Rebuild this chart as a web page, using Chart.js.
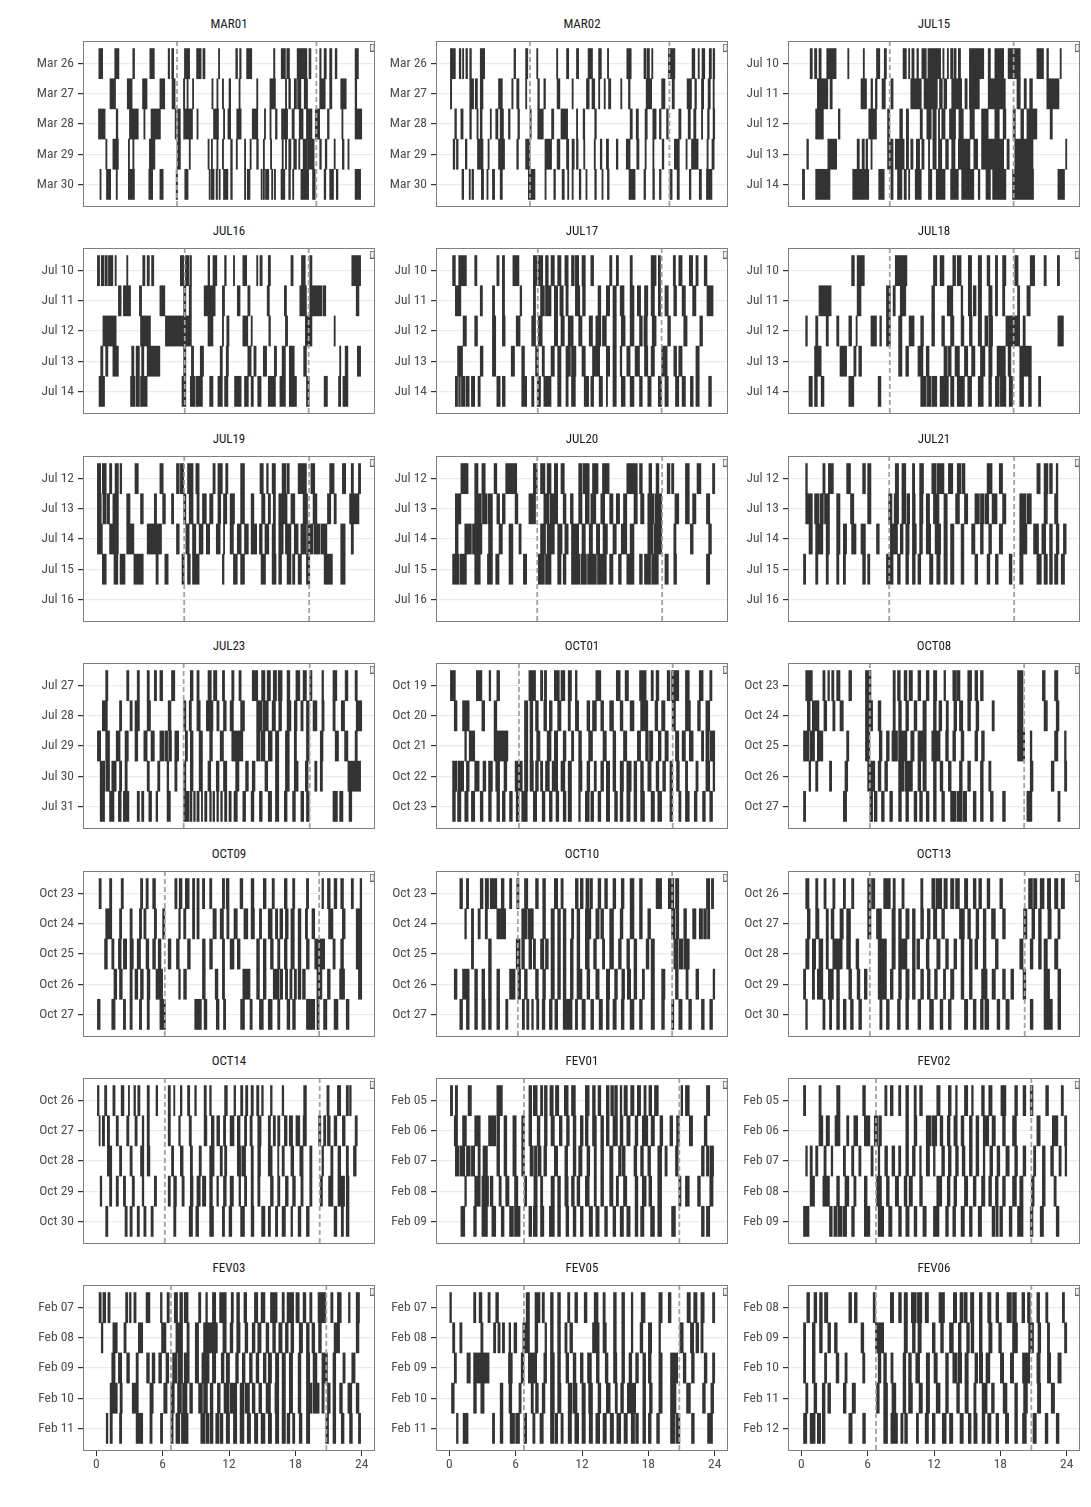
<!DOCTYPE html>
<html><head><meta charset="utf-8">
<script src="https://cdn.jsdelivr.net/npm/chart.js@4.4.1/dist/chart.umd.min.js"></script>
<style>
html,body{margin:0;padding:0;background:#fff;}
#wrap{position:relative;width:1091px;height:1507px;overflow:hidden;background:#fff;}
#wrap canvas{position:absolute;}
.ttl{position:absolute;text-align:center;font-family:'Roboto Condensed','Roboto',sans-serif;font-size:13px;line-height:14px;color:#1a1a1a;white-space:nowrap;}
</style></head>
<body><div id="wrap"></div>
<script>
// ---- row labels ----
const DAYS_MAR26 = ['Mar 26','Mar 27','Mar 28','Mar 29','Mar 30'];
const DAYS_JUL10 = ['Jul 10','Jul 11','Jul 12','Jul 13','Jul 14'];
const DAYS_JUL12 = ['Jul 12','Jul 13','Jul 14','Jul 15','Jul 16'];
const DAYS_JUL27 = ['Jul 27','Jul 28','Jul 29','Jul 30','Jul 31'];
const DAYS_OCT19 = ['Oct 19','Oct 20','Oct 21','Oct 22','Oct 23'];
const DAYS_OCT23 = ['Oct 23','Oct 24','Oct 25','Oct 26','Oct 27'];
const DAYS_OCT26 = ['Oct 26','Oct 27','Oct 28','Oct 29','Oct 30'];
const DAYS_FEB05 = ['Feb 05','Feb 06','Feb 07','Feb 08','Feb 09'];
const DAYS_FEB07 = ['Feb 07','Feb 08','Feb 09','Feb 10','Feb 11'];
const DAYS_FEB08 = ['Feb 08','Feb 09','Feb 10','Feb 11','Feb 12'];
const X_TICKS = [0, 6, 12, 18, 24];

// ---- sunrise / sunset (hours) ----
const SUN_MAR = [7.3, 19.9];
const SUN_JUL15 = [8.0, 19.2];
const SUN_JUL19 = [7.95, 19.25];
const SUN_JUL23 = [7.9, 19.3];
const SUN_OCT01 = [6.3, 20.2];
const SUN_OCT08 = [6.2, 20.15];
const SUN_OCT13 = [6.2, 20.2];
const SUN_FEV = [6.75, 20.8];

// ---- activity intervals per day row: [start,end, start,end, ...] (hours) ----
const MAR01 = [
 [0.23,0.58,1.67,2.05,3.3,3.46,4.84,5.25,6.5,6.63,6.82,7.0,7.97,8.44,9.07,9.48,9.64,9.83,11.05,11.14,12.61,12.77,12.96,13.1,13.59,14.06,16.03,16.15,16.72,17.1,17.22,17.47,18.16,19.04,19.23,19.41,20.2,20.33,20.6,20.8,21.1,21.3,21.6,21.76,23.4,23.7],
 [1.24,1.74,2.8,3.24,4.18,4.59,5.75,6.19,6.85,7.13,7.88,8.0,8.2,8.3,8.7,8.8,10.45,10.55,10.9,10.96,11.4,11.45,12.0,12.15,12.9,13.0,14.5,14.6,15.7,16.2,17.1,17.2,17.4,17.56,17.9,18.1,18.2,18.5,18.8,19.1,20.2,20.7,21.1,21.3,22.1,22.6,23.4,23.55],
 [0.2,0.8,1.8,1.95,3.0,3.1,3.15,3.8,4.3,4.4,4.95,5.8,7.13,7.2,7.35,7.6,7.9,8.7,9.1,9.2,10.6,11.05,11.5,11.55,11.9,12.15,12.7,13.1,14.1,14.6,15.2,15.3,15.7,15.75,16.2,16.35,16.75,17.3,17.7,17.9,18.35,18.7,19.0,19.5,19.8,20.2,20.9,21.05,22.2,22.3,23.4,24.0],
 [0.86,0.92,1.5,2.0,2.9,3.0,3.3,3.36,4.8,5.3,7.3,7.45,7.5,7.6,8.4,8.45,10.1,10.2,10.4,10.48,10.9,10.96,11.4,11.5,12.15,12.3,12.65,12.7,13.4,13.5,13.9,14.0,14.5,14.65,15.1,15.2,15.75,15.85,16.8,16.9,17.1,17.2,17.4,17.6,17.85,18.1,18.3,18.4,18.7,19.05,19.1,19.7,20.2,20.35,20.7,20.85,21.5,21.6,22.25,22.4,22.75,22.85],
 [0.33,0.42,0.92,1.3,1.8,1.9,2.9,3.45,4.75,5.1,5.75,6.05,7.22,7.35,8.0,8.3,10.2,10.27,10.4,10.65,10.83,10.96,11.1,11.2,11.5,11.9,12.15,12.3,13.4,13.46,13.65,13.9,14.9,15.0,15.1,15.2,15.3,15.6,15.85,15.9,16.1,16.2,16.7,17.05,17.4,17.55,17.75,17.85,18.5,19.2,19.55,19.8,20.6,20.75,21.1,21.45,21.7,21.85,23.4,23.9]
];
const MAR02 = [
 [0.1,0.55,0.9,1.05,1.2,1.3,1.5,1.65,1.85,2.0,2.8,3.2,5.85,6.0,6.9,7.1,7.9,8.0,9.7,9.8,10.6,10.8,11.5,11.7,12.55,12.95,13.5,13.75,14.3,14.4,16.05,16.45,17.6,17.8,17.9,18.1,18.3,18.4,19.8,20.4,21.95,22.2,22.5,22.6,22.85,23.1,23.5,23.7,23.85,24.0],
 [0.1,0.22,1.85,2.2,2.35,2.55,2.8,3.05,4.45,4.8,5.65,5.77,6.1,6.3,6.9,7.0,8.0,8.15,8.55,8.7,9.75,10.0,11.1,11.2,12.4,12.65,12.9,13.15,13.5,13.6,14.0,14.1,14.4,14.6,15.5,15.6,16.2,16.35,17.8,18.3,19.2,19.5,20.15,20.35,21.5,21.9,22.2,22.35,22.8,23.0,23.4,23.6,23.85,23.95],
 [0.5,0.65,1.05,1.25,1.85,2.0,2.5,2.6,2.8,2.97,3.7,3.8,4.2,4.4,4.6,4.9,5.35,5.5,6.2,6.35,7.3,7.4,8.0,8.5,9.25,9.45,10.1,10.7,11.5,11.6,12.1,12.25,13.15,13.3,16.35,16.55,16.9,17.1,17.7,17.9,18.4,18.7,19.0,19.15,19.65,19.8,20.75,20.95,21.6,21.8,22.1,22.3,22.8,22.9,23.35,23.5,23.85,24.0],
 [0.35,0.5,0.65,0.8,1.45,1.6,2.55,3.05,3.5,3.6,4.45,5.0,6.1,6.25,6.9,7.3,8.65,9.25,9.75,10.0,10.6,10.8,11.1,11.3,11.5,11.65,12.15,12.2,13.1,13.2,13.65,13.8,14.2,14.4,15.1,15.25,16.0,16.35,16.95,17.15,17.7,17.8,18.4,18.5,19.25,19.4,20.35,20.8,21.4,21.5,21.9,22.5,23.3,23.4,23.75,23.95],
 [1.15,1.3,1.8,1.9,2.05,2.2,2.9,3.1,3.4,3.5,3.9,4.1,4.6,4.8,7.15,7.75,8.65,8.75,9.45,9.6,10.2,10.4,10.7,10.8,11.1,11.2,11.75,11.9,12.35,12.45,13.15,13.3,13.8,13.9,14.3,14.45,16.25,16.8,17.6,17.75,18.4,18.55,19.0,19.15,19.95,20.15,20.6,20.8,21.7,21.85,22.6,22.8,23.25,23.75]
];
const JUL15 = [
 [0.8,1.0,1.2,1.4,1.6,1.8,2.3,3.15,4.2,4.3,5.6,5.7,6.8,7.1,7.5,7.7,9.2,9.5,9.7,9.8,10.0,10.2,10.45,10.6,10.9,11.3,11.45,12.6,12.8,12.9,13.2,13.3,13.5,13.7,13.8,14.0,14.2,14.4,15.2,16.5,16.9,17.1,17.5,18.3,18.7,19.8,21.3,21.9,22.2,22.35,23.4,23.5],
 [1.45,2.4,2.6,2.8,5.4,5.9,6.3,6.45,6.7,6.85,7.3,7.6,8.1,8.3,9.9,10.85,11.1,12.3,12.5,12.75,12.9,13.15,13.6,14.5,14.8,15.0,15.2,16.1,16.9,18.45,19.5,19.8,20.15,20.35,20.65,20.9,22.2,23.3],
 [1.3,2.0,3.35,3.5,6.1,6.8,7.8,8.0,8.9,9.15,9.5,9.7,10.75,10.95,11.35,11.75,11.9,12.2,12.4,12.5,12.7,13.0,13.4,13.95,14.25,14.65,15.25,15.65,16.3,16.9,17.5,17.9,18.25,18.5,19.15,19.35,19.85,20.1,20.4,21.3,22.5,22.7],
 [0.5,0.65,2.4,3.2,5.05,5.25,5.5,5.7,5.85,6.0,6.3,6.4,7.8,8.3,8.5,9.3,9.5,9.7,9.9,10.1,10.4,10.7,10.9,11.1,11.5,11.6,11.9,12.2,12.4,12.7,13.05,13.3,13.6,13.9,14.2,15.25,15.6,15.95,16.3,18.3,18.6,18.8,19.3,20.95,23.9,24.0],
 [0.1,0.3,1.3,2.6,4.65,6.1,7.0,7.5,8.1,8.3,8.7,9.1,9.3,9.5,9.7,9.8,10.3,10.85,11.5,11.8,12.2,13.0,13.5,14.2,14.5,15.6,16.0,16.15,16.7,17.1,17.3,18.5,19.1,21.0,23.2,23.8]
];
const JUL16 = [
 [0.1,0.3,0.45,0.7,0.8,1.0,1.1,1.5,1.7,1.8,2.75,2.85,4.2,4.4,4.6,4.8,5.0,5.2,7.6,7.9,8.05,8.4,8.5,8.6,10.1,10.25,10.55,10.9,11.6,11.75,12.4,12.5,13.25,13.6,14.5,14.6,14.8,15.0,15.55,15.75,17.6,17.8,18.55,18.9,19.3,19.5,23.1,23.9],
 [2.0,2.25,2.45,3.1,3.9,4.1,5.75,6.2,7.9,8.1,8.4,8.6,9.75,10.75,11.4,11.6,12.75,13.0,13.7,13.9,15.45,15.65,17.0,17.2,18.4,19.0,19.3,20.4,20.5,20.75,23.5,23.75],
 [0.6,1.8,4.0,4.9,6.25,7.9,7.95,8.6,10.1,10.55,11.4,11.5,11.8,12.0,13.25,13.7,14.0,14.1,15.6,15.75,17.1,17.3,18.9,19.5,21.5,21.6],
 [0.4,0.6,0.85,1.05,1.5,2.0,3.2,3.4,3.6,3.9,4.1,4.3,4.6,5.75,7.9,8.1,8.6,8.8,9.4,9.7,11.2,11.4,11.75,11.95,13.7,14.0,14.25,14.45,15.1,15.4,16.1,16.3,16.8,17.1,17.45,17.9,18.75,19.0,22.0,22.1,22.5,22.75,23.6,23.9],
 [0.25,0.75,3.1,3.5,3.6,3.9,4.0,4.6,7.75,8.1,8.5,8.9,9.0,9.6,10.25,10.55,11.0,11.4,11.6,11.9,12.5,13.1,13.4,13.75,14.0,14.2,14.6,14.9,15.55,16.2,16.6,17.1,17.45,18.1,19.0,19.25,20.6,20.9,21.9,22.1,22.3,22.75]
];
const JUL17 = [
 [0.3,0.55,0.85,1.55,2.3,2.5,4.3,4.5,4.8,5.0,5.75,6.3,7.6,7.95,8.05,8.45,8.7,8.95,9.2,9.5,9.8,10.1,10.45,10.75,11.05,11.3,11.4,11.7,12.0,12.3,12.8,13.05,14.5,14.7,15.1,15.3,16.35,16.55,18.25,18.7,18.9,19.1,20.25,20.45,20.75,21.05,21.7,22.0,22.3,22.5,23.05,23.3],
 [0.55,1.05,2.8,3.0,3.9,4.1,4.8,5.0,6.4,6.55,7.6,7.8,8.25,8.6,8.7,9.2,9.5,9.8,10.0,10.3,10.55,10.75,11.4,11.8,12.05,12.3,13.45,13.7,14.2,14.5,14.8,15.1,15.45,15.8,16.35,16.7,17.0,17.3,17.65,17.95,18.25,18.55,18.9,19.1,19.5,19.8,20.3,20.55,21.05,21.35,22.0,22.3,23.3,23.85],
 [1.25,1.55,2.3,2.55,3.9,4.2,4.8,5.05,6.05,6.4,7.45,7.8,8.05,8.4,9.5,9.8,10.1,10.4,10.75,11.2,11.7,12.0,12.65,12.95,13.25,13.7,13.85,14.2,14.8,15.1,15.55,15.9,16.35,16.7,17.2,17.45,17.6,17.9,18.35,18.7,19.75,20.0,21.2,21.5,22.65,22.9],
 [0.75,1.2,2.8,3.05,3.9,4.2,5.6,5.9,6.55,6.8,7.8,8.05,8.4,8.6,9.2,9.5,9.8,10.1,10.55,10.95,11.05,11.45,12.0,12.3,12.95,13.6,14.2,14.5,14.8,15.1,15.45,15.6,16.05,16.35,16.8,17.2,17.65,17.95,18.25,18.55,19.2,19.7,20.3,20.55,20.75,21.05,22.3,22.6],
 [0.55,0.75,0.85,1.0,1.1,1.4,1.5,1.8,2.0,2.3,2.6,2.8,4.3,4.6,4.8,5.05,6.55,7.0,7.45,7.65,7.95,8.25,8.55,9.2,9.8,10.1,10.55,10.75,11.05,11.4,12.2,12.6,12.8,13.05,13.55,13.85,14.2,14.3,14.8,15.1,15.55,15.9,16.35,16.7,17.2,17.45,17.95,18.25,18.9,19.2,19.5,19.8,20.45,20.75,21.05,21.35,21.8,22.05,22.3,22.6,23.45,23.7]
];
const JUL18 = [
 [4.55,4.8,5.05,5.7,8.5,9.55,11.95,12.25,12.55,12.9,13.7,13.95,14.1,14.45,15.1,15.4,16.0,16.3,16.8,17.05,17.55,17.75,18.2,18.5,19.3,19.6,20.7,21.1,21.95,22.15,23.15,23.35],
 [1.6,2.7,5.05,5.4,7.7,8.05,8.3,8.5,8.95,9.45,11.8,12.05,13.2,13.7,14.45,14.6,15.1,15.4,15.55,15.8,16.0,16.3,16.95,17.25,17.55,17.75,18.2,18.4,19.55,19.75,20.4,20.7],
 [0.4,0.55,1.3,1.5,2.25,2.45,3.2,3.4,4.3,4.55,4.95,5.05,6.3,6.8,7.1,7.25,7.7,8.05,8.8,9.1,9.75,10.2,10.8,11.05,11.8,12.05,12.7,12.95,13.5,13.8,14.45,14.7,15.2,15.45,16.0,16.3,16.6,16.9,17.0,17.3,18.5,19.75,20.05,20.25,23.2,23.7],
 [1.2,1.8,3.5,4.1,4.75,4.95,5.2,5.45,8.8,9.1,9.45,9.7,10.55,11.0,11.3,11.55,12.9,13.2,13.3,13.55,13.9,14.3,14.75,15.05,15.4,15.7,16.2,16.6,16.95,17.25,17.7,18.45,18.7,18.95,19.75,20.8],
 [0.7,1.0,1.2,1.45,1.8,2.05,4.3,4.75,6.95,7.2,10.8,11.3,11.4,11.7,11.8,12.25,12.55,13.3,13.5,13.8,14.1,14.75,15.05,15.4,16.0,16.45,16.95,17.2,17.55,17.9,18.0,18.5,18.8,19.1,19.75,20.1,20.55,20.8,21.45,21.65]
];
const JUL19 = [
 [0.1,0.4,0.55,0.9,1.2,1.4,1.7,2.0,2.15,2.3,3.5,3.8,5.75,6.05,7.25,7.5,7.6,7.9,8.25,8.75,9.0,9.3,10.55,10.75,11.0,11.4,11.7,11.9,13.05,13.4,14.8,15.1,15.4,15.55,15.9,16.2,16.8,17.15,17.25,17.45,18.25,19.0,19.4,19.75,21.1,21.5,22.25,22.55,23.05,23.25,23.7,23.9],
 [0.1,0.45,0.6,0.9,1.0,1.2,1.5,2.0,2.75,3.05,4.0,4.25,5.25,5.45,6.0,6.25,6.8,7.0,7.9,8.1,8.4,8.75,9.1,9.3,9.6,9.95,10.25,10.55,11.0,11.25,11.5,11.8,12.1,12.5,13.05,13.4,14.0,14.25,14.95,15.25,15.55,15.75,16.0,16.2,16.5,17.25,17.6,17.95,18.7,19.1,19.6,19.95,20.9,21.2,21.5,21.7,22.9,23.75],
 [0.1,0.55,1.2,2.0,2.75,3.4,4.6,5.9,7.25,7.5,8.1,8.4,8.7,9.0,9.3,9.65,9.95,10.25,10.85,11.2,11.5,11.6,12.1,12.4,12.75,13.1,13.4,13.75,14.0,14.5,14.75,15.0,15.25,15.6,15.9,16.2,16.5,16.9,17.1,17.6,17.9,18.25,18.5,19.0,19.1,19.6,19.7,20.2,20.3,20.85,22.1,22.5,23.05,23.25],
 [0.55,0.9,1.6,1.95,2.15,2.6,3.4,4.25,5.4,5.6,6.2,6.5,7.75,7.95,8.25,8.5,8.7,9.3,11.4,11.55,12.4,12.75,13.05,13.4,14.9,15.3,15.9,16.25,16.5,16.75,17.25,17.6,17.75,17.95,18.25,18.55,19.0,19.3,20.6,21.35,22.1,22.5],
 []
];
const JUL20 = [
 [1.05,1.7,2.3,2.6,2.95,3.25,4.05,4.3,5.1,6.1,7.6,7.95,8.25,8.65,8.85,9.2,9.5,9.8,10.1,10.4,11.7,12.0,12.1,12.65,12.95,13.45,13.85,14.45,16.05,17.0,17.2,17.45,18.05,18.3,18.7,18.95,19.7,19.95,20.1,20.3,21.35,21.7,22.4,22.75,23.8,24.0],
 [0.55,1.05,2.3,2.9,3.0,3.4,3.5,3.9,4.3,4.55,4.8,5.05,5.95,6.2,7.2,7.8,8.55,9.0,9.1,9.8,10.3,10.55,10.95,11.2,11.7,12.0,12.3,12.65,12.8,13.25,13.7,14.05,14.5,14.8,15.1,15.4,15.75,16.05,16.7,17.0,17.3,17.6,17.95,18.5,18.6,19.2,20.4,20.75,21.35,21.7,22.0,22.3,23.25,23.55],
 [0.55,0.8,1.4,2.0,2.1,2.95,3.55,3.9,4.5,4.8,5.4,5.75,6.3,6.5,8.25,8.7,8.85,9.5,9.8,10.2,10.45,10.75,11.05,11.7,12.0,12.3,12.65,12.95,13.3,13.6,13.9,14.3,14.8,15.1,15.55,16.05,16.35,16.7,17.95,18.4,18.5,19.2,20.3,20.5,21.8,22.05,23.45,23.7],
 [0.3,0.9,1.0,1.55,2.3,2.8,3.45,3.9,4.2,4.5,5.4,5.75,6.7,7.0,8.05,8.6,8.7,9.2,9.8,10.1,10.3,10.55,11.05,11.8,11.9,12.4,12.5,13.3,13.4,14.2,14.5,14.8,15.3,15.55,16.05,16.7,17.2,17.45,17.65,18.2,18.3,18.9,19.5,19.8,20.3,20.55,23.25,23.55],
 []
];
const JUL21 = [
 [0.4,0.55,1.95,2.15,2.45,2.9,4.1,4.45,5.55,5.8,6.0,6.3,8.5,8.8,9.1,9.45,10.05,10.25,10.7,11.05,11.8,12.2,12.3,12.9,13.3,13.7,14.1,14.45,14.55,14.8,16.8,17.25,17.9,18.2,21.3,21.6,21.95,22.3,22.45,22.7,23.05,23.2],
 [0.4,1.0,1.2,1.6,1.7,2.0,2.1,2.55,3.2,3.5,4.45,4.75,6.0,6.3,7.9,8.2,8.4,8.8,9.1,9.45,9.55,9.8,10.05,10.3,10.7,11.0,11.3,11.6,11.95,12.45,12.9,13.2,13.95,14.3,14.75,15.05,15.7,16.1,16.2,16.5,16.6,16.95,17.25,17.7,18.2,18.5,19.75,20.3,20.4,20.8,21.95,22.25,22.9,23.2],
 [0.7,1.0,1.3,1.95,2.25,2.55,3.2,3.5,3.8,4.1,4.55,4.95,5.4,5.8,6.8,7.05,8.05,8.7,8.95,9.2,9.45,9.75,10.05,10.4,10.7,10.95,11.3,11.7,12.1,12.6,12.9,13.2,13.5,13.8,14.45,14.7,15.4,15.7,16.2,16.45,16.95,17.2,17.9,18.2,19.75,20.4,21.0,21.45,21.75,22.1,22.45,22.7,23.05,23.3,23.7,23.95],
 [0.2,0.4,1.3,1.5,2.25,2.45,3.2,3.4,3.8,4.0,5.55,5.8,6.0,6.2,7.7,8.3,8.7,8.95,9.45,9.7,10.05,10.3,10.55,10.8,11.6,11.9,12.25,12.55,12.9,13.2,13.5,13.8,14.45,14.7,15.7,15.95,16.8,17.05,17.55,17.8,18.8,19.05,19.75,20.05,21.3,21.7,21.95,22.25,22.45,22.7,22.9,23.2,23.5,23.8],
 []
];
const JUL23 = [
 [0.85,1.05,2.75,2.95,3.7,3.9,4.6,4.8,5.25,5.45,5.75,6.0,6.8,7.1,8.5,8.75,9.1,9.3,10.1,10.4,10.6,10.9,11.4,11.6,12.25,12.45,12.9,13.1,14.1,14.6,14.95,15.25,15.45,15.75,16.0,16.3,16.45,16.8,17.25,17.5,18.05,18.4,18.7,19.0,19.3,19.5,20.4,20.55,21.4,21.75,22.5,22.75,23.4,23.6],
 [0.55,1.0,2.1,2.3,3.05,3.25,3.5,3.9,4.6,4.9,6.5,6.75,7.9,8.1,8.4,8.6,9.1,9.4,9.95,10.55,10.9,11.1,11.5,11.75,12.1,12.4,13.05,13.4,14.5,15.0,15.1,15.55,15.9,16.2,16.5,16.75,17.25,17.6,17.9,18.15,18.5,18.7,19.0,19.25,19.6,19.95,20.4,20.6,21.4,21.6,22.15,22.45,23.5,24.0],
 [0.1,0.4,0.85,1.2,1.8,2.15,2.6,2.9,3.5,3.75,4.3,4.6,4.95,5.25,5.75,6.1,6.2,6.45,6.55,6.8,7.1,7.45,8.05,8.25,8.5,8.75,9.3,9.6,10.25,10.5,11.2,11.5,12.25,13.25,14.5,14.8,14.9,15.25,15.55,15.9,16.2,16.5,17.1,17.45,17.9,18.1,19.0,19.25,20.25,20.5,21.6,21.9,22.45,22.75,23.4,23.6],
 [0.35,0.8,0.9,1.2,1.4,1.8,2.1,2.3,2.6,2.8,4.6,4.8,5.55,5.75,6.4,6.55,7.1,7.3,7.9,8.1,8.5,8.75,9.3,9.6,10.1,10.35,10.85,11.1,11.5,11.8,12.6,12.9,13.5,13.75,14.1,14.35,15.25,15.5,16.2,16.5,17.1,17.45,17.9,18.25,18.9,19.15,19.75,19.95,20.25,20.45,22.75,23.9],
 [0.35,0.75,1.2,1.6,2.0,2.25,2.45,2.95,3.7,3.9,4.1,4.3,4.75,5.0,5.4,5.55,6.4,6.7,7.9,8.4,8.5,8.65,8.8,8.95,9.1,9.3,9.5,9.6,9.8,10.0,10.25,10.4,10.55,10.7,10.9,11.05,11.25,11.4,11.6,11.8,12.0,12.2,12.45,12.75,13.25,13.5,14.0,14.25,14.75,15.0,15.55,15.85,16.2,16.5,17.0,17.25,17.75,18.0,18.5,18.75,19.0,19.25,21.4,21.8,22.0,22.3,22.85,23.1]
];
const OCT01 = [
 [0.1,0.55,2.45,2.95,3.6,3.75,4.3,4.55,7.2,7.8,8.25,8.45,8.6,8.8,9.5,9.95,10.1,10.45,10.75,11.05,11.4,11.55,13.25,13.7,15.1,15.45,15.9,16.2,17.2,17.8,18.25,18.45,18.7,18.95,19.7,19.95,20.1,20.75,21.35,21.7,22.6,22.95,23.55,23.75],
 [0.45,0.7,1.2,1.8,2.95,3.2,4.05,4.3,6.8,7.1,7.3,7.55,7.8,8.05,8.55,8.8,9.05,9.3,9.8,10.1,10.75,10.95,11.4,11.7,12.45,12.7,12.95,13.3,13.7,13.95,14.5,14.85,15.45,15.7,16.35,16.7,17.3,17.95,18.6,18.85,19.2,19.5,20.15,20.45,21.35,21.8,22.45,22.7,23.2,23.55],
 [1.4,1.55,1.8,2.3,4.05,5.3,6.8,7.1,7.3,7.55,7.9,8.2,8.85,9.2,9.5,9.8,10.3,10.55,11.05,11.25,11.7,11.95,12.6,12.95,13.9,14.2,14.8,15.05,15.75,16.05,17.0,17.3,17.75,18.0,18.1,18.4,18.9,19.15,19.5,19.8,20.45,20.75,21.05,21.35,21.7,22.05,22.8,23.0,23.2,23.5,23.6,24.0],
 [0.3,0.7,0.8,1.3,1.55,1.8,2.3,2.7,3.05,3.3,3.55,3.9,4.2,4.55,4.95,5.2,5.95,6.6,6.8,7.1,7.3,7.6,7.8,8.05,8.25,8.45,8.7,9.05,9.3,9.8,10.1,10.45,10.75,11.05,11.7,12.0,12.45,12.7,13.1,13.3,13.7,13.95,14.2,14.5,14.8,15.05,15.45,15.75,16.05,16.45,16.7,16.95,17.3,17.55,17.95,18.25,18.7,18.95,19.3,19.55,19.95,20.2,20.55,20.8,21.35,21.55,22.3,22.5,23.2,23.55,23.85,24.0],
 [0.3,0.55,0.75,1.05,1.4,1.7,2.0,2.3,2.8,3.05,3.55,3.8,4.3,4.55,4.8,5.05,5.45,5.7,6.05,6.3,6.55,7.05,7.6,7.9,8.4,8.65,9.05,9.3,9.65,9.9,10.3,10.55,10.75,11.05,11.7,11.85,12.3,12.65,12.8,13.05,13.45,13.7,14.2,14.5,14.95,15.2,15.45,15.7,16.05,16.35,16.7,16.95,17.3,17.65,18.25,18.55,18.85,19.2,19.95,20.2,20.75,20.95,21.35,21.7,22.15,22.4,22.9,23.15,23.55,23.8]
];
const OCT08 = [
 [0.4,1.0,1.95,2.15,2.4,2.55,2.75,2.95,3.2,3.5,4.3,4.55,5.8,6.3,8.3,8.5,8.7,8.95,9.3,9.55,9.75,10.05,10.55,10.8,11.3,11.55,11.95,12.25,12.9,13.05,13.7,14.0,14.05,14.35,15.05,15.4,15.7,15.95,16.2,16.45,19.55,20.05,21.8,22.05,22.9,23.2],
 [0.55,0.8,1.0,1.6,2.05,2.3,2.85,3.05,3.5,3.8,5.8,6.45,6.95,7.2,8.3,8.5,8.8,9.05,9.45,9.7,10.2,10.45,11.0,11.3,11.95,12.2,12.45,12.7,13.1,13.3,13.8,14.05,14.3,14.6,15.05,15.3,15.8,16.05,17.25,17.45,19.55,20.05,21.95,22.25,23.05,23.3],
 [0.2,0.7,0.8,1.2,1.45,1.95,4.1,4.3,5.8,6.2,7.05,7.3,7.7,7.95,8.2,8.7,8.8,9.55,9.9,10.2,10.55,11.3,11.8,12.55,13.05,13.3,13.7,13.95,14.45,14.7,15.7,15.95,16.3,16.55,19.55,20.2,20.7,20.85,22.9,23.2,23.8,23.95],
 [0.7,0.85,1.3,1.5,2.55,2.75,3.95,4.2,6.0,6.65,6.95,7.2,7.55,7.8,8.8,9.3,9.4,10.05,10.55,10.8,11.0,11.3,11.95,12.2,12.55,12.8,13.3,13.55,14.3,14.55,15.05,15.3,16.2,16.45,16.95,17.15,20.7,20.95,22.6,22.85,23.8,24.0],
 [0.2,0.4,3.8,4.1,6.2,6.45,6.6,6.85,7.25,7.5,8.0,8.25,8.8,9.05,9.45,9.7,10.2,10.45,10.7,10.95,11.3,11.55,11.95,12.2,12.7,12.95,13.5,14.0,14.1,14.5,14.6,14.95,15.55,15.8,16.2,16.45,17.1,17.35,18.2,18.45,20.4,20.85,23.2,23.4]
];
const OCT09 = [
 [0.25,0.45,1.2,1.4,2.25,2.45,4.0,4.2,4.5,4.7,5.1,5.35,7.1,7.3,7.5,7.75,8.05,8.4,8.7,8.9,9.1,9.3,9.6,9.8,10.25,10.45,11.4,11.6,11.75,12.0,13.0,13.25,14.0,14.25,15.1,15.35,15.9,16.1,17.0,17.25,17.75,17.95,19.0,19.2,20.4,20.55,20.9,21.15,21.5,21.75,22.1,22.35,23.05,23.25,23.85,24.0],
 [0.85,1.4,2.1,2.3,3.05,3.25,3.9,4.1,4.3,4.5,5.25,5.45,6.0,6.2,7.45,7.6,7.9,8.1,8.7,8.9,9.1,9.3,10.55,10.85,11.2,11.5,11.8,12.0,12.45,12.75,13.35,13.7,14.0,14.3,14.75,14.95,15.55,15.9,16.2,16.4,16.6,16.85,17.1,17.35,17.6,17.9,18.25,18.5,18.9,19.1,19.5,19.75,21.0,21.4,22.25,22.5,23.5,24.0],
 [0.75,1.0,1.4,1.6,2.0,2.25,2.45,2.75,3.05,3.35,3.7,4.0,4.5,4.75,5.1,5.35,5.6,5.85,6.5,6.75,7.25,7.5,8.25,8.5,9.6,9.85,10.25,10.5,11.4,11.6,12.1,12.45,12.75,13.0,14.5,14.75,15.1,15.35,15.75,16.0,16.4,16.6,17.0,17.25,17.6,17.9,18.25,18.5,19.0,19.25,19.75,20.65,21.4,21.6,22.1,22.35,23.5,24.0],
 [1.6,1.85,2.1,2.35,3.05,3.25,3.5,3.75,4.0,4.25,4.6,4.85,5.4,6.0,7.45,7.6,7.9,8.15,9.6,9.85,10.75,11.0,11.4,11.6,13.25,13.9,14.5,14.75,15.1,15.35,16.0,16.5,16.6,16.85,17.1,17.3,17.5,17.7,17.9,18.1,18.25,18.5,18.65,18.9,19.95,20.4,20.9,21.15,22.0,22.45,23.7,24.0],
 [0.1,0.35,1.4,1.7,2.45,2.65,3.05,3.25,3.9,4.1,4.6,4.8,5.75,6.25,8.9,9.5,9.75,10.0,10.85,11.1,11.5,11.7,13.05,13.4,13.9,14.1,14.75,15.1,15.55,15.9,16.4,16.6,17.25,17.5,17.75,18.0,19.0,19.75,19.95,20.15,20.55,20.85,21.5,21.85,22.6,22.85]
];
const OCT10 = [
 [0.95,1.2,1.55,1.75,2.8,3.05,3.25,3.55,3.7,4.3,4.7,4.95,5.45,5.65,6.1,6.3,6.8,7.1,7.8,8.05,8.45,8.7,9.5,9.8,10.1,10.3,11.4,11.65,11.85,12.1,12.35,12.65,12.75,12.95,13.45,13.7,14.05,14.3,14.8,15.05,15.55,15.8,16.35,16.7,17.2,17.45,18.7,19.2,19.8,20.3,20.45,20.75,23.25,23.55,23.7,23.9],
 [1.4,1.55,2.0,2.2,2.6,2.8,3.25,3.45,4.3,5.1,6.55,7.0,7.1,7.6,8.45,8.7,9.2,9.5,9.8,10.05,10.3,10.55,11.05,11.25,11.55,11.8,12.3,12.8,13.25,13.55,13.7,13.95,14.5,14.85,15.45,15.7,16.35,16.7,17.2,17.45,17.95,18.2,20.1,20.4,20.5,20.75,21.2,21.45,22.0,22.3,22.6,22.9,23.0,23.25,23.35,23.55],
 [2.0,2.2,3.55,3.8,6.05,6.4,6.55,6.8,7.2,7.45,7.6,7.8,8.25,8.55,8.7,8.95,9.2,9.5,9.8,10.05,10.3,10.55,10.95,11.2,11.55,11.8,12.3,12.65,13.05,13.3,13.85,14.05,14.5,14.85,15.3,15.55,16.05,16.3,16.7,16.95,17.8,18.05,18.25,18.55,20.3,20.7,20.8,21.1,21.2,21.7],
 [0.45,0.7,1.2,1.8,2.3,2.55,2.95,3.2,3.55,3.8,4.3,4.55,5.45,5.95,6.2,6.45,6.8,7.05,7.8,8.05,8.45,8.7,9.2,9.5,9.8,10.05,10.3,10.55,10.95,11.2,11.55,12.0,12.45,12.7,13.25,13.55,14.2,14.5,14.95,15.2,15.6,15.85,16.1,16.4,16.7,16.95,17.45,17.65,18.25,18.55,19.2,19.5,20.45,20.7,21.4,21.6,22.3,22.55,23.85,24.0],
 [0.95,1.2,1.55,1.8,2.3,2.55,2.95,3.25,3.55,3.8,4.3,4.55,5.1,5.3,6.6,6.8,7.0,7.2,7.45,7.6,7.9,8.1,8.4,8.65,9.05,9.3,9.55,9.8,10.3,11.1,11.4,11.6,12.0,12.3,12.8,13.05,13.55,13.85,14.2,14.45,14.8,15.1,15.55,15.8,16.35,16.7,17.2,17.45,18.25,18.55,19.2,19.45,20.1,20.3,20.75,21.05,21.65,21.9,22.8,23.05,23.55,23.8]
];
const OCT13 = [
 [0.4,0.7,1.3,1.5,2.05,2.25,2.85,3.05,3.8,4.0,4.55,4.75,6.0,6.25,6.35,6.65,7.45,8.05,8.3,8.5,9.1,9.3,10.8,11.0,11.8,12.1,12.2,12.7,12.9,13.2,13.5,13.8,13.95,14.3,14.75,15.05,15.55,15.8,16.05,16.3,16.8,17.05,17.95,18.2,20.55,20.9,21.0,21.3,21.6,21.95,22.25,22.55,22.9,23.2,23.5,23.8],
 [0.55,0.8,1.3,1.6,2.25,2.45,2.7,2.95,3.5,3.8,4.1,4.45,6.0,6.3,6.8,7.25,8.2,8.5,8.8,9.05,9.45,9.75,10.05,10.3,10.8,11.05,11.4,11.65,11.95,12.25,12.7,12.95,14.3,14.75,15.05,15.3,15.8,16.05,16.45,16.7,17.2,17.55,18.2,18.45,20.1,20.4,20.85,21.1,21.45,21.7,22.3,22.6,23.2,23.4],
 [0.4,0.7,1.0,1.3,1.6,1.95,2.25,2.45,2.85,3.7,4.1,4.45,4.95,5.2,6.95,7.7,8.2,8.5,8.8,9.55,10.05,10.3,10.45,10.7,11.3,11.55,12.25,12.55,13.05,13.3,13.8,14.05,14.45,14.7,15.2,15.45,15.7,15.95,16.45,16.7,17.55,17.8,19.75,20.05,20.7,20.95,21.45,21.7,21.95,22.25,22.9,23.2],
 [0.2,0.4,1.0,1.2,1.45,1.95,2.45,2.9,3.2,3.45,4.3,4.55,5.05,5.3,5.7,5.95,6.95,7.7,8.05,8.3,8.8,9.05,9.45,9.75,10.05,10.3,10.8,11.05,11.4,11.65,12.05,12.3,12.85,13.05,13.5,13.8,14.45,14.7,15.2,15.45,16.3,16.8,17.25,17.55,18.2,18.45,18.95,19.2,20.05,20.3,21.95,22.45,23.2,23.45],
 [0.4,0.55,1.95,2.15,2.55,2.75,3.2,3.45,3.8,4.05,4.45,4.7,5.2,5.45,7.1,7.3,7.7,7.95,8.7,8.95,9.45,9.7,10.55,10.8,11.6,11.95,12.55,12.8,13.3,13.55,14.75,15.05,15.55,15.8,16.2,16.45,16.6,16.95,17.7,17.95,18.5,18.8,20.7,20.95,21.95,22.7,23.2,23.45]
];
const OCT14 = [
 [0.1,0.25,0.75,0.95,1.5,1.7,2.25,2.5,2.9,3.0,3.4,3.55,3.75,3.95,4.6,4.8,5.4,5.55,6.5,6.7,7.0,7.1,7.6,7.75,8.25,8.45,8.9,9.05,9.75,9.95,10.25,10.4,11.6,11.85,12.45,12.6,13.05,13.25,13.5,13.7,14.0,14.2,14.5,14.7,14.95,15.1,15.75,15.9,16.8,16.95,18.75,19.0,20.85,21.05,21.8,22.1,22.6,22.8,22.9,23.05],
 [0.25,0.35,0.55,0.75,1.0,1.2,1.8,2.0,2.75,2.95,3.5,3.7,4.15,4.3,4.6,4.8,6.5,6.7,7.45,7.6,8.4,8.6,9.75,10.0,10.4,10.65,10.9,11.15,11.5,11.7,12.1,12.45,12.75,13.0,13.4,13.6,13.9,14.1,14.6,14.9,15.55,15.75,16.0,16.2,16.4,16.6,17.0,17.25,17.45,17.75,18.05,18.4,18.7,19.0,20.1,20.3,20.55,20.75,20.9,21.15,21.5,21.75,22.25,22.5,23.4,23.6],
 [1.0,1.4,2.1,2.3,3.05,3.25,4.0,4.3,4.6,4.85,6.8,7.0,7.6,7.85,8.5,8.7,9.3,9.5,10.25,10.65,11.2,11.4,11.6,11.8,12.75,13.05,13.15,13.5,14.0,14.2,14.6,14.85,15.55,15.9,16.4,16.5,16.8,17.0,17.6,17.85,18.4,18.7,19.3,19.5,20.4,20.55,21.2,21.4,21.85,22.1,22.6,22.8,23.25,23.5],
 [0.35,0.5,1.2,1.4,1.8,2.0,2.45,2.65,3.25,3.45,4.15,4.3,5.25,5.45,6.5,6.7,7.0,7.25,7.75,7.95,8.5,8.75,9.1,9.4,9.6,9.9,10.25,10.5,10.9,11.05,11.5,11.75,12.1,12.4,12.9,13.05,13.4,13.6,14.0,14.2,14.6,14.8,15.75,16.0,16.4,16.6,17.1,17.35,17.75,18.0,18.5,18.7,19.3,19.5,20.25,20.45,21.0,21.4,21.85,22.45,22.6,22.85],
 [0.85,1.05,2.6,2.8,3.05,3.25,3.7,3.9,4.3,4.5,4.95,5.15,7.0,7.2,8.4,8.7,9.0,9.25,10.25,10.6,11.4,11.6,12.0,12.25,13.05,13.4,14.0,14.25,14.95,15.25,15.55,15.75,16.2,16.4,16.8,17.1,17.6,17.75,18.25,18.5,19.0,19.25,21.5,21.75,22.15,22.35,22.6,22.85]
];
const FEV01 = [
 [0.1,0.3,0.55,0.75,1.7,2.0,4.3,4.8,7.2,7.45,7.6,7.95,8.25,8.45,8.6,8.85,9.1,9.4,9.6,9.9,10.4,10.75,11.05,11.4,12.3,12.65,12.95,13.2,13.45,13.7,14.2,14.45,14.6,14.85,14.95,15.2,15.45,15.6,15.8,16.1,16.4,16.7,17.0,17.3,17.6,17.8,18.05,18.3,18.55,18.9,20.95,21.1,21.35,21.7,23.25,23.55],
 [0.45,0.75,1.2,1.55,2.3,2.8,3.55,4.2,4.3,4.55,4.95,5.2,5.75,6.05,6.55,6.8,7.2,7.45,7.95,8.2,8.6,8.85,9.2,9.5,9.95,10.2,10.6,10.85,11.2,11.45,11.85,12.1,12.3,12.55,12.95,13.3,13.7,13.95,14.2,14.45,14.8,15.2,15.45,15.7,16.05,16.35,16.8,17.05,17.45,17.95,18.25,18.55,19.05,19.3,19.95,20.2,20.55,20.8,21.7,22.0,23.05,23.3],
 [0.55,0.9,1.0,1.4,1.55,1.9,2.0,2.3,2.6,2.8,3.05,3.45,4.3,4.55,4.95,5.2,5.75,6.05,6.55,6.8,7.3,7.6,7.7,7.95,8.05,8.3,8.55,8.8,9.5,9.8,10.45,10.7,11.2,11.45,11.7,12.0,12.45,12.7,13.1,13.3,13.7,13.95,14.5,14.8,15.3,15.55,15.65,15.9,16.7,16.95,17.3,17.55,17.95,18.2,18.85,19.2,19.5,19.7,20.45,20.7,22.8,23.05,23.25,23.5,23.6,23.9],
 [1.4,1.55,2.3,2.8,2.95,3.55,3.7,3.95,4.5,4.7,5.1,5.4,5.9,6.2,6.8,7.0,7.65,7.95,8.25,8.45,9.2,9.5,9.8,10.05,10.45,10.75,11.05,11.3,11.55,11.8,12.3,12.65,13.1,13.3,13.7,13.95,14.5,14.8,15.1,15.3,15.75,16.05,16.8,17.05,17.45,17.8,18.05,18.3,18.85,19.2,20.75,20.95,21.35,21.7,22.45,22.7,23.55,23.85],
 [1.05,1.4,2.2,2.45,2.95,3.45,3.85,4.2,4.7,4.95,5.45,5.8,5.9,6.4,7.2,7.45,7.6,7.95,8.25,8.55,9.05,9.5,9.8,10.05,10.55,10.8,11.2,11.45,11.85,12.1,12.65,12.95,13.25,13.55,14.05,14.3,14.8,15.05,15.45,15.75,16.05,16.35,16.8,17.05,17.3,17.6,18.2,18.55,18.85,19.2,20.1,20.45,22.8,23.05,23.25,23.55]
];
const FEV02 = [
 [0.2,0.4,1.6,1.8,3.2,3.5,5.55,5.8,7.55,7.75,8.05,8.3,8.8,9.0,9.45,9.7,10.2,10.4,10.7,10.95,12.25,12.55,13.3,13.55,13.95,14.1,14.75,15.05,15.4,15.55,16.3,16.55,16.95,17.25,18.05,18.5,19.3,19.55,20.05,20.3,20.7,20.95,22.1,22.35,23.5,23.7],
 [1.6,1.95,2.25,2.55,3.05,3.5,4.1,4.3,4.75,5.1,5.7,6.2,6.6,6.9,7.0,7.25,9.45,9.7,10.2,10.45,11.3,11.7,11.8,12.25,12.55,12.8,13.2,13.45,13.8,14.1,14.45,14.7,15.2,15.45,15.8,16.05,16.45,16.95,17.25,17.55,18.2,18.45,19.1,19.45,21.3,21.6,22.7,23.2,23.8,24.0],
 [0.4,0.55,0.8,1.0,1.3,1.5,2.05,2.25,2.7,2.85,3.8,4.0,4.55,4.75,5.2,5.4,6.3,6.5,6.95,7.1,7.55,7.8,8.2,8.45,8.8,9.0,9.45,9.7,10.05,10.3,10.7,10.85,11.3,11.6,11.95,12.1,12.7,12.95,13.3,13.55,13.95,14.2,14.55,14.8,15.2,15.45,15.8,16.05,16.45,16.6,17.05,17.3,17.7,17.95,18.5,18.8,19.3,19.55,20.05,20.3,21.0,21.2,21.8,22.05,22.55,22.8,23.3,23.5,23.85,24.0],
 [0.8,1.2,1.95,2.55,3.2,3.45,3.95,4.3,4.75,4.95,5.7,5.95,6.8,7.25,7.7,7.95,8.5,8.8,9.3,9.55,9.75,10.05,10.7,10.95,12.25,12.7,13.2,13.45,13.8,14.05,14.75,15.05,15.55,15.8,16.3,16.6,16.95,17.2,17.55,17.8,18.2,18.45,19.1,19.45,19.75,20.05,20.8,21.05,21.8,22.05,22.85,23.05],
 [0.2,0.7,2.55,2.8,2.95,3.2,3.3,3.7,3.8,4.1,4.55,4.8,5.7,6.2,6.95,7.45,7.9,8.2,8.8,9.05,9.45,9.75,10.2,10.45,11.0,11.3,11.95,12.45,13.05,13.3,13.7,13.95,14.45,14.75,15.2,15.45,16.0,16.3,17.25,17.5,17.6,17.8,17.95,18.2,18.8,19.05,19.55,20.05,20.7,20.95,21.6,21.9,23.05,23.3]
];
const FEV03 = [
 [0.25,0.45,0.6,0.85,1.05,1.25,2.65,2.85,3.0,3.15,3.4,3.6,4.5,4.85,5.8,5.95,6.4,6.6,7.05,7.35,7.55,7.8,7.95,8.3,9.25,9.45,9.9,10.05,10.5,10.8,11.15,11.75,12.2,12.4,12.7,12.95,13.35,13.6,14.3,14.6,14.9,15.25,15.75,16.35,16.8,17.0,17.25,17.85,18.05,18.35,18.7,18.95,19.3,19.5,20.05,20.75,21.2,21.4,21.8,22.15,22.8,22.95,23.5,23.8],
 [0.45,0.6,1.5,1.9,2.5,2.7,3.8,4.2,5.9,6.3,7.2,7.8,8.2,8.4,8.95,9.25,9.7,10.95,11.45,11.75,12.1,12.35,12.7,13.0,13.45,13.7,14.1,14.35,14.6,14.9,15.35,15.6,15.95,16.2,16.5,16.8,17.1,17.35,17.6,17.85,18.35,18.65,19.0,19.25,19.5,19.75,20.1,20.35,21.5,22.0,23.5,23.75],
 [1.4,1.7,2.0,2.3,2.75,3.0,3.6,3.8,4.55,4.8,5.05,5.3,5.65,5.9,6.3,6.55,6.9,7.3,7.4,7.8,7.95,8.4,8.95,9.25,9.55,10.2,10.5,10.8,11.3,11.55,11.75,12.05,12.6,12.85,13.2,13.45,13.85,14.1,14.45,14.7,15.1,15.35,15.55,15.85,16.2,16.5,16.8,17.1,17.45,17.75,18.25,18.5,19.0,19.3,19.6,19.95,20.4,20.9,21.4,21.65,22.3,22.5,23.1,23.4],
 [1.25,1.9,2.15,2.35,3.25,3.8,4.85,5.15,6.1,6.4,6.75,7.05,7.35,7.7,7.8,8.2,8.45,8.7,9.25,9.6,9.7,10.05,10.3,10.55,10.95,11.2,11.55,12.0,12.1,12.7,13.0,13.35,13.45,13.85,14.1,14.35,14.7,14.95,15.35,15.75,16.15,16.5,16.8,17.1,17.45,17.75,18.25,18.5,19.0,19.5,19.6,20.15,20.4,20.6,20.9,21.15,21.4,21.65,22.0,22.25,22.75,23.1,23.5,23.75],
 [0.9,1.05,1.25,1.45,2.1,2.3,3.6,4.2,4.85,5.05,5.8,6.0,6.75,6.95,7.2,7.55,7.7,8.3,9.45,9.8,9.9,10.2,10.3,10.55,10.8,11.1,11.2,11.45,11.75,12.05,12.4,12.7,13.0,13.35,13.65,13.95,14.3,14.6,14.9,15.25,15.55,15.85,16.2,16.5,16.8,17.1,17.25,17.5,17.75,17.95,18.35,18.6,19.0,19.3,20.75,21.0,21.4,21.65,22.15,22.4,22.9,23.15,23.7,23.9]
];
const FEV05 = [
 [0.0,0.2,2.2,2.4,2.7,2.95,3.5,3.7,4.2,4.45,6.95,7.25,7.75,8.2,8.4,8.6,9.15,9.4,9.8,10.05,10.7,10.9,11.35,11.6,12.2,12.45,13.1,13.45,13.9,14.1,14.85,15.1,15.6,15.85,16.45,16.6,17.35,17.7,18.95,19.25,19.8,20.05,21.5,21.8,22.1,22.4,22.75,23.05,23.8,24.0],
 [0.3,0.5,0.95,1.15,2.85,3.05,4.0,4.2,4.4,4.6,4.8,5.0,5.4,5.55,5.85,6.1,6.65,7.25,7.75,8.0,8.65,8.8,9.15,9.4,9.8,10.05,10.45,10.65,10.9,11.15,12.95,13.55,13.9,14.2,14.85,15.1,15.6,15.85,16.45,16.6,17.25,17.5,18.0,18.3,18.95,19.1,20.85,21.15,21.8,22.1,22.3,22.55,22.75,22.95],
 [0.45,0.65,1.6,1.9,2.2,3.6,5.35,5.7,6.5,6.75,7.15,7.9,8.55,8.8,9.15,9.5,9.8,10.05,10.55,10.8,11.2,11.45,11.85,12.1,12.5,12.85,13.3,13.55,14.1,14.35,14.85,15.15,15.6,15.85,16.25,16.5,16.85,17.1,17.5,17.75,18.0,18.25,18.95,19.25,20.0,20.65,21.15,21.4,21.9,22.15,23.05,23.3,23.8,24.0],
 [0.2,0.45,2.2,2.45,2.85,3.15,4.6,4.85,5.4,5.65,6.3,6.5,7.4,7.6,7.8,8.05,8.4,8.65,9.15,9.5,9.8,10.1,10.75,11.1,11.2,11.55,12.0,12.3,12.6,12.95,13.45,13.7,14.2,14.55,15.0,15.2,15.5,15.75,16.1,16.85,17.5,17.75,18.1,18.35,18.95,19.25,20.0,20.5,21.45,21.8,22.9,23.15,23.65,23.9],
 [0.65,0.8,1.25,1.7,3.9,4.1,4.6,4.85,5.5,5.9,6.0,6.35,6.75,7.0,7.55,7.75,8.2,8.5,9.15,9.45,9.55,9.8,10.1,10.3,10.75,11.05,11.35,11.7,12.0,12.3,12.65,12.95,13.25,13.6,13.9,14.2,14.55,14.85,15.15,15.5,15.8,16.1,16.45,16.75,16.85,17.1,17.5,17.75,18.0,18.25,18.75,19.0,20.0,20.4,20.5,20.85,21.9,22.15,23.35,23.8]
];
const FEV06 = [
 [0.5,0.75,1.15,1.4,1.65,1.9,2.1,2.4,4.3,4.55,4.8,5.05,6.5,6.7,8.05,8.35,8.8,9.05,9.3,9.6,9.95,10.4,10.5,10.9,11.2,11.5,12.45,12.95,13.75,14.05,14.35,14.6,14.7,15.0,15.3,15.6,16.1,16.35,16.85,17.15,17.6,17.85,18.6,19.0,19.1,19.45,19.95,20.2,20.45,20.7,21.3,21.55,22.1,22.3,23.6,23.8],
 [0.2,0.4,1.0,1.25,1.65,1.9,2.4,2.65,3.0,3.25,5.4,5.65,6.7,7.45,9.3,9.6,10.05,10.3,10.55,10.85,11.85,12.1,12.6,12.85,13.4,13.75,14.2,14.45,14.95,15.2,15.35,15.6,16.1,16.35,16.95,17.25,17.85,18.1,19.1,19.55,20.55,21.0,21.4,21.65,22.25,22.45,23.8,24.0],
 [0.2,0.4,1.0,1.25,2.1,2.3,3.15,3.4,3.95,4.15,5.55,5.75,6.95,7.2,7.45,7.7,8.1,8.3,9.2,9.45,9.7,9.95,10.35,10.7,11.3,11.6,12.0,12.3,13.05,13.3,13.7,14.1,14.2,14.5,14.8,15.1,15.7,15.95,16.1,16.4,16.7,17.05,18.0,18.3,18.9,19.2,20.0,20.65,21.3,21.6,22.25,22.55,23.2,23.5],
 [0.4,0.6,1.15,1.4,1.9,2.15,2.4,2.65,3.8,4.05,4.6,4.9,6.8,7.05,7.45,7.8,8.2,8.55,9.2,9.45,9.7,10.05,10.65,10.95,11.3,11.6,12.2,12.55,13.05,13.3,14.05,14.3,14.8,15.1,15.6,15.8,16.35,16.8,17.2,17.45,18.25,18.6,19.3,19.55,20.1,20.45,21.35,21.65,22.6,22.9],
 [0.2,0.5,0.8,1.25,1.45,1.75,1.9,2.15,4.3,4.6,5.55,5.8,7.45,7.8,8.1,8.7,9.0,9.2,9.35,9.6,10.4,10.6,11.2,11.5,11.85,12.1,12.75,13.1,13.4,13.7,14.35,14.65,15.1,15.35,15.6,15.9,16.35,16.6,16.85,17.15,17.6,17.85,18.45,18.75,19.3,19.55,20.0,20.35,20.95,21.25,22.05,22.3,23.05,23.3]
];

// ---- panel lookup ----
const PANEL_NAMES = ['MAR01','MAR02','JUL15','JUL16','JUL17','JUL18','JUL19','JUL20','JUL21','JUL23','OCT01','OCT08','OCT09','OCT10','OCT13','OCT14','FEV01','FEV02','FEV03','FEV05','FEV06'];
const PANEL_DATA = [MAR01,MAR02,JUL15,JUL16,JUL17,JUL18,JUL19,JUL20,JUL21,JUL23,OCT01,OCT08,OCT09,OCT10,OCT13,OCT14,FEV01,FEV02,FEV03,FEV05,FEV06];
const PANEL_DAYS = [DAYS_MAR26,DAYS_MAR26,DAYS_JUL10,DAYS_JUL10,DAYS_JUL10,DAYS_JUL10,DAYS_JUL12,DAYS_JUL12,DAYS_JUL12,DAYS_JUL27,DAYS_OCT19,DAYS_OCT23,DAYS_OCT23,DAYS_OCT23,DAYS_OCT26,DAYS_OCT26,DAYS_FEB05,DAYS_FEB05,DAYS_FEB07,DAYS_FEB07,DAYS_FEB08];
const PANEL_SUN = [SUN_MAR,SUN_MAR,SUN_JUL15,SUN_JUL15,SUN_JUL15,SUN_JUL15,SUN_JUL19,SUN_JUL19,SUN_JUL19,SUN_JUL23,SUN_OCT01,SUN_OCT08,SUN_OCT08,SUN_OCT08,SUN_OCT13,SUN_OCT13,SUN_FEV,SUN_FEV,SUN_FEV,SUN_FEV,SUN_FEV];

// ---- layout / style ----
const FONT_FAMILY = "'Roboto Condensed','Roboto',sans-serif";
const COL_LEFT = [83, 436, 788];
const ROW_TOP0 = 41, ROW_STEP = 207.4, PW = 292, PH = 166;
const YAXIS_W = 60, PAD_R = 5, PAD_T = 3, PAD_B = 3, XAXIS_H = 28;
const Y_MIN = 0.25, Y_MAX = 5.75, X_MIN = -1.2, X_MAX = 25.2;

Chart.defaults.font.family = FONT_FAMILY;

const keyImg = document.createElement('canvas');
keyImg.width = 5; keyImg.height = 8;
(function(){ const c = keyImg.getContext('2d'); c.fillStyle = '#f0f0f0'; c.fillRect(0,0,5,8); c.strokeStyle = '#666'; c.lineWidth = 1; c.strokeRect(0.5,0.5,4,7); })();

// panel frame drawn along the scale limits
const borderPlugin = {
  id: 'panelBorder',
  afterDraw(chart) {
    const xs = chart.scales.x, ys = chart.scales.y, ctx = chart.ctx;
    const l = Math.round(xs.getPixelForValue(X_MIN)), r = Math.round(xs.getPixelForValue(X_MAX));
    const t = Math.round(ys.getPixelForValue(Y_MIN)), b = Math.round(ys.getPixelForValue(Y_MAX));
    ctx.save();
    ctx.strokeStyle = '#7f7f7f';
    ctx.lineWidth = 1;
    ctx.strokeRect(l + 0.5, t + 0.5, r - l - 1, b - t - 1);
    ctx.restore();
  }
};

const wrap = document.getElementById('wrap');

PANEL_NAMES.forEach((name, p) => {
  const col = p % 3, row = Math.floor(p / 3), isBottom = row === 6;
  const top = Math.round(ROW_TOP0 + row * ROW_STEP), left = COL_LEFT[col];

  const t = document.createElement('div');
  t.className = 'ttl';
  t.textContent = name;
  t.style.left = left + 'px'; t.style.width = PW + 'px'; t.style.top = (top - 24) + 'px';
  wrap.appendChild(t);

  const cv = document.createElement('canvas');
  const w = YAXIS_W + PW + PAD_R, h = PAD_T + PH + (isBottom ? XAXIS_H : PAD_B);
  cv.width = w; cv.height = h;
  cv.style.width = w + 'px'; cv.style.height = h + 'px';
  cv.style.left = (left - YAXIS_W) + 'px'; cv.style.top = (top - PAD_T) + 'px';
  wrap.appendChild(cv);

  const rows = PANEL_DATA[p], days = PANEL_DAYS[p], sun = PANEL_SUN[p];
  const datasets = [];
  rows.forEach((r, i) => {
    const d = [];
    for (let k = 0; k + 1 < r.length; k += 2) d.push({ x: [r[k], r[k + 1]], y: i + 1 });
    datasets.push({ type: 'bar', data: d, backgroundColor: '#333333', borderWidth: 0, grouped: false,
      barPercentage: 1, categoryPercentage: 1, minBarLength: 1.2, order: 3 });
  });
  sun.forEach(s => datasets.push({ type: 'line', data: [{ x: s, y: Y_MIN }, { x: s, y: Y_MAX }],
    borderColor: '#a3a3a3', borderWidth: 1.8, borderDash: [5, 3], pointRadius: 0, pointHoverRadius: 0,
    pointBorderWidth: 0, pointHitRadius: 0, fill: false, order: 1 }));
  datasets.push({ type: 'scatter', data: [{ x: 24.95, y: 0.47 }], pointStyle: keyImg, pointRadius: 0.5,
    pointHoverRadius: 0, pointBorderWidth: 0, order: 0 });

  new Chart(cv, {
    type: 'bar',
    data: { datasets },
    plugins: [borderPlugin],
    options: {
      indexAxis: 'y',
      responsive: false,
      maintainAspectRatio: false,
      animation: false,
      devicePixelRatio: 1,
      events: [],
      layout: { padding: { left: 0, right: PAD_R, top: PAD_T, bottom: isBottom ? 0 : PAD_B } },
      plugins: { legend: { display: false }, tooltip: { enabled: false }, title: { display: false } },
      scales: {
        x: {
          type: 'linear', min: X_MIN, max: X_MAX, display: isBottom, offset: false,
          afterBuildTicks: s => { s.ticks = X_TICKS.map(v => ({ value: v })); },
          afterFit: s => { s.height = isBottom ? XAXIS_H : 0; s.paddingLeft = 0; s.paddingRight = 0; s.paddingTop = 0; s.paddingBottom = 0; },
          grid: { offset: false, drawOnChartArea: false, drawTicks: true, tickLength: 5, tickColor: '#333333', color: '#333333' },
          border: { display: false },
          ticks: { color: '#4d4d4d', font: { size: 13.5 }, padding: 1, maxRotation: 0, autoSkip: false }
        },
        y: {
          type: 'linear', reverse: true, min: Y_MIN, max: Y_MAX, offset: false,
          afterBuildTicks: s => { s.ticks = [1, 2, 3, 4, 5].map(v => ({ value: v })); },
          afterFit: s => { s.width = YAXIS_W; s.paddingTop = 0; s.paddingBottom = 0; s.paddingLeft = 0; s.paddingRight = 0; },
          grid: { offset: false, color: '#ebebeb', lineWidth: 1.2, drawTicks: true, tickLength: 5, tickColor: '#333333' },
          border: { display: false },
          ticks: { color: '#4d4d4d', font: { size: 13.5 }, padding: 4, autoSkip: false, callback: v => days[Math.round(v) - 1] }
        }
      }
    }
  });
});
</script>
</body></html>
